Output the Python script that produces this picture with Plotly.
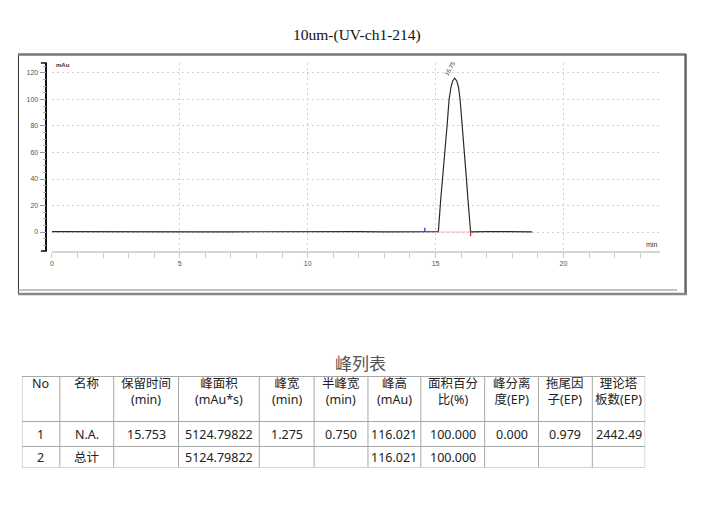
import plotly.graph_objects as go

TITLE = "10um-(UV-ch1-214)"
TABLE_TITLE = "峰列表"

# chromatogram (min, mAu)
time_min = [0.0, 1.0, 2.0, 3.0, 4.0, 5.0, 6.0, 7.0, 8.0, 9.0, 10.0, 11.0, 12.0, 13.0,
            14.0, 14.6, 15.11, 15.20, 15.30, 15.37, 15.45, 15.53, 15.60, 15.67, 15.75,
            15.83, 15.90, 15.96, 16.05, 16.14, 16.20, 16.27, 16.37, 17.0, 17.5, 18.0, 18.78]
signal_mau = [0.3, 0.2, 0.3, 0.1, 0.2, 0.3, 0.1, 0.2, 0.3, 0.2, 0.2, 0.1, 0.3, 0.2,
              0.2, 0.3, 0.3, 24, 46, 58, 80, 100, 109, 114, 116,
              114, 109, 100, 80, 58, 42, 24, 0.2, 0.3, 0.2, 0.3, 0.2]

peak_label = "15.75"
peak_label_pos = (15.58, 123.8)
start_mark = 14.58      # blue marker
base_start, base_end = 15.11, 16.37   # integration baseline (pink)

x_range = [0, 23.78]
y_range = [-14.3, 127.5]

# peak table
headers = ["No", "名称", "保留时间<br>(min)", "峰面积<br>(mAu*s)", "峰宽<br>(min)",
           "半峰宽<br>(min)", "峰高<br>(mAu)", "面积百分<br>比(%)", "峰分离<br>度(EP)",
           "拖尾因<br>子(EP)", "理论塔<br>板数(EP)"]
row1 = ["1", "N.A.", "15.753", "5124.79822", "1.275", "0.750", "116.021",
        "100.000", "0.000", "0.979", "2442.49"]
row2 = ["2", "总计", "", "5124.79822", "", "", "116.021", "100.000", "", "", ""]
col_widths = [38, 54, 65, 81, 55, 54, 53, 64, 54, 54, 53]
row_heights = [45, 25, 21]

W, H = 706, 511
CELL_FONT = dict(family="Noto Sans, Noto Sans CJK SC", size=12.5, color="#222")
GRID = "#a8a8a8"
TABLE_TOP = 376.5
PAD = 10  # extra room above the table so header text stays inside the axis range


def px(x):
    return x / W


def py(y):
    return 1 - y / H


fig = go.Figure()

fig.add_trace(go.Scatter(
    x=time_min, y=signal_mau, mode="lines",
    line=dict(color="#2a2a2a", width=1.2), hoverinfo="skip", showlegend=False,
))
# integration baseline
fig.add_trace(go.Scatter(
    x=[base_start, base_end], y=[0, 0], mode="lines",
    line=dict(color="#f4b6c2", width=1), showlegend=False,
))
# start / end markers
fig.add_trace(go.Scatter(
    x=[start_mark, start_mark], y=[0, 3.2], mode="lines",
    line=dict(color="#2030e0", width=1.2), showlegend=False,
))
fig.add_trace(go.Scatter(
    x=[base_end, base_end], y=[0, -3.2], mode="lines",
    line=dict(color="#e02020", width=1.2), showlegend=False,
))

# --- table on its own hidden axes (x2 = px across, y2 = px down) ---
col_edges = [0]
for w in col_widths:
    col_edges.append(col_edges[-1] + w)
row_edges = [0]
for h in row_heights:
    row_edges.append(row_edges[-1] + h)

shapes = []
for xe in col_edges:
    shapes.append(dict(type="line", xref="x2", yref="y2", x0=xe, x1=xe,
                       y0=0, y1=row_edges[-1], line=dict(color=GRID, width=1)))
for ye in row_edges:
    shapes.append(dict(type="line", xref="x2", yref="y2", x0=0, x1=col_edges[-1],
                       y0=ye, y1=ye, line=dict(color=GRID, width=1)))

annotations = []
for i, txt in enumerate(headers):
    annotations.append(dict(text=txt, x=(col_edges[i] + col_edges[i + 1]) / 2, y=-4,
                            xref="x2", yref="y2", yanchor="top", xanchor="center",
                            align="center", showarrow=False, font=CELL_FONT))
for r, row in enumerate([row1, row2]):
    yc = (row_edges[r + 1] + row_edges[r + 2]) / 2
    for i, txt in enumerate(row):
        if txt:
            annotations.append(dict(text=txt, x=(col_edges[i] + col_edges[i + 1]) / 2, y=yc,
                                    xref="x2", yref="y2", xanchor="center", yanchor="middle",
                                    showarrow=False, font=CELL_FONT))

tick_font = dict(family="Liberation Sans, Arial", size=7, color="#555")
fig.update_layout(
    width=W, height=H,
    margin=dict(l=0, r=0, t=0, b=0),
    paper_bgcolor="white", plot_bgcolor="white",
    xaxis=dict(
        domain=[px(50), px(660)], range=x_range, anchor="y",
        showline=True, linecolor="#d4d4d4", linewidth=2,
        ticks="outside", ticklen=5, tickcolor="#cccccc", dtick=5, tick0=0,
        minor=dict(dtick=1, ticks="outside", ticklen=5, tickcolor="#cccccc"),
        showgrid=True, gridcolor="#d0d0d0", griddash="2px,3px", gridwidth=1,
        zeroline=False, tickfont=tick_font,
    ),
    yaxis=dict(
        domain=[py(251), py(63)], range=y_range, anchor="free", position=px(44.5),
        showline=True, linecolor="#111", linewidth=1.5,
        ticks="outside", ticklen=6, tickcolor="#999", dtick=20, tick0=0,
        minor=dict(dtick=5, ticks="outside", ticklen=3, tickcolor="#aaa"),
        showgrid=True, gridcolor="#d0d0d0", griddash="2px,3px", gridwidth=1,
        zeroline=False, tickfont=tick_font,
    ),
    xaxis2=dict(domain=[px(20), px(20 + col_edges[-1])], range=[0, col_edges[-1]],
                anchor="y2", visible=False, fixedrange=True),
    yaxis2=dict(domain=[py(TABLE_TOP + row_edges[-1]), py(TABLE_TOP - PAD)],
                range=[row_edges[-1], -PAD], anchor="x2", visible=False, fixedrange=True),
    annotations=[
        dict(text=TITLE, x=px(356.5), y=py(35), xref="paper", yref="paper",
             xanchor="center", yanchor="middle", showarrow=False,
             font=dict(family="Liberation Serif", size=15.5, color="#111")),
        dict(text=TABLE_TITLE, x=px(360), y=py(362), xref="paper", yref="paper",
             xanchor="center", yanchor="middle", showarrow=False,
             font=dict(family="Noto Sans CJK SC", size=17, color="#555")),
        dict(text="mAu", x=px(52), y=py(65), xref="paper", yref="paper",
             xanchor="left", yanchor="middle", showarrow=False,
             font=dict(family="Liberation Sans", size=6, color="#333", weight="bold")),
        dict(text="min", x=px(659), y=py(244), xref="paper", yref="paper",
             xanchor="right", yanchor="middle", showarrow=False,
             font=dict(family="Liberation Sans", size=7, color="#333")),
        dict(text=peak_label, x=peak_label_pos[0], y=peak_label_pos[1], xref="x", yref="y",
             xanchor="center", yanchor="middle", textangle=-60, showarrow=False,
             font=dict(family="Liberation Sans", size=6, color="#333")),
    ] + annotations,
    shapes=[
        # outer frame
        dict(type="line", xref="paper", yref="paper", x0=px(16.5), x1=px(16.5),
             y0=py(54), y1=py(294), line=dict(color="#333", width=1)),
        dict(type="line", xref="paper", yref="paper", x0=px(16), x1=px(686),
             y0=py(54.5), y1=py(54.5), line=dict(color="#777", width=2.5)),
        dict(type="line", xref="paper", yref="paper", x0=px(685.5), x1=px(685.5),
             y0=py(54), y1=py(295), line=dict(color="#666", width=2.5)),
        dict(type="line", xref="paper", yref="paper", x0=px(16), x1=px(687),
             y0=py(294), y1=py(294), line=dict(color="#888", width=2.5)),
        dict(type="line", xref="paper", yref="paper", x0=px(16), x1=px(677),
             y0=py(290), y1=py(290), line=dict(color="#888", width=1)),
        # y-axis end caps
        dict(type="line", xref="paper", yref="paper", x0=px(39), x1=px(45),
             y0=py(63), y1=py(63), line=dict(color="#111", width=1.5)),
        dict(type="line", xref="paper", yref="paper", x0=px(39), x1=px(45),
             y0=py(251), y1=py(251), line=dict(color="#111", width=1.5)),
    ] + shapes,
)

fig.write_html("out.html", config={"displayModeBar": False},
               post_script="document.body.style.margin='0';")
